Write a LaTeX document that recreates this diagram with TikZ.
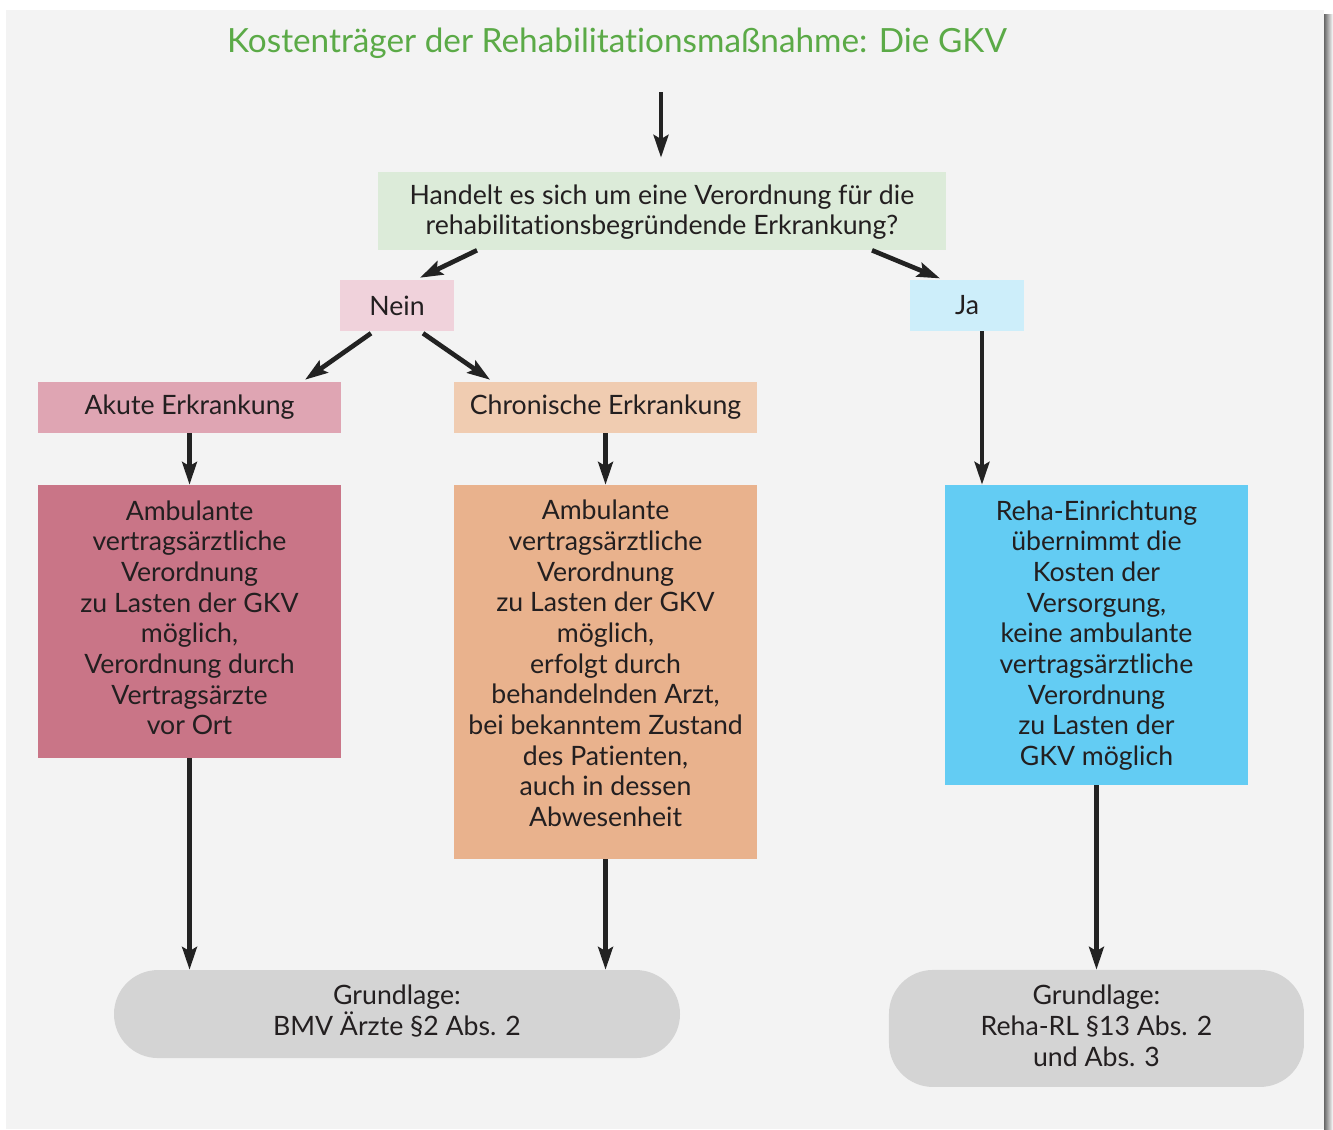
\documentclass[tikz,border=0pt]{standalone}
\usepackage{fontspec}
\setmainfont{Lato}[Ligatures=NoCommon]
\usepackage{xcolor}
\usepackage{tikz}
\usetikzlibrary{positioning, arrows.meta}

\definecolor{hintergrund}{HTML}{F3F3F3}
\definecolor{titelgruen}{HTML}{5BAA47}
\definecolor{fragegruen}{HTML}{DCEBD9}
\definecolor{neinrosa}{HTML}{F0D2DB}
\definecolor{jablau}{HTML}{CDEEFA}
\definecolor{akutrosa}{HTML}{DFA5B3}
\definecolor{chronorange}{HTML}{F0CCB1}
\definecolor{akutrot}{HTML}{C97587}
\definecolor{chronbraun}{HTML}{E9B28D}
\definecolor{rehablau}{HTML}{63CCF3}
\definecolor{grau}{HTML}{D4D4D4}
\definecolor{schrift}{HTML}{231F20}
\definecolor{pfeilfarbe}{HTML}{222222}

\begin{document}
\begin{tikzpicture}[x=0.75pt, y=-0.75pt, on grid,
    >={Stealth[length=17pt, width=11pt, inset=3pt]},
    box/.style={rectangle, align=center, inner sep=0pt, text=schrift,
        font=\fontsize{20}{23}\selectfont},
    frage/.style={box, fill=fragegruen, minimum width=426pt, minimum height=58.5pt},
    antwort/.style={box, minimum width=85.5pt, minimum height=38.25pt},
    kopf/.style={box, minimum width=227.25pt, minimum height=38.25pt},
    inhalt/.style={box, minimum width=227.25pt},
    grundlage/.style={box, fill=grau, rounded corners=33pt},
    pfeil/.style={->, draw=pfeilfarbe, line width=3.5pt}]

    \useasboundingbox (0,0) rectangle (1333,1129);
    \fill[white] (0,0) rectangle (1333,1129);
    \fill[hintergrund] (6,10) rectangle (1324,1129);
    \shade[left color=black!60, right color=white] (1324,14) rectangle (1333,1129);

    \node[text=titelgruen, font=\fontsize{25}{28}\selectfont] (titel) at (617,43)
        {Kostenträger der Rehabilitationsmaßnahme: Die GKV};
    \coordinate (start) at (661,92);

    \node[frage] (frage) at (662,211)
        {Handelt es sich um eine Verordnung für die\\rehabilitationsbegründende Erkrankung?\\[-21pt]};
    \node[antwort, fill=neinrosa] (nein) [below left=70.875pt and 198.75pt of frage] {Nein};
    \node[antwort, fill=jablau] (ja) [below right=70.875pt and 228.75pt of frage] {Ja};

    \node[kopf, fill=akutrosa] (akut) [below left=76.5pt and 155.6pt of nein] {Akute Erkrankung};
    \node[kopf, fill=chronorange] (chron) [below right=76.5pt and 156.4pt of nein] {Chronische Erkrankung};

    \node[inhalt, fill=akutrot, minimum height=204.75pt] (akutvo) [below=160.5pt of akut]
        {Ambulante\\vertragsärztliche\\Verordnung\\zu Lasten der GKV\\möglich,\\Verordnung durch\\Vertragsärzte\\vor Ort\\[-17pt]};
    \node[inhalt, fill=chronbraun, minimum height=280.5pt] (chronvo) [below=198.4pt of chron]
        {Ambulante\\vertragsärztliche\\Verordnung\\zu Lasten der GKV\\möglich,\\erfolgt durch\\behandelnden Arzt,\\bei bekanntem Zustand\\des Patienten,\\auch in dessen\\Abwesenheit\\[-10pt]};
    \node[inhalt, fill=rehablau, minimum height=225pt] (reha) [below right=247.1pt and 97.1pt of ja]
        {Reha-Einrichtung\\übernimmt die\\Kosten der\\Versorgung,\\keine ambulante\\vertragsärztliche\\Verordnung\\zu Lasten der\\GKV möglich\\[-20pt]};

    \node[grundlage, minimum width=424.5pt, minimum height=66pt] (bmv)
        [below right=294.4pt and 155.6pt of akutvo] {Grundlage:\\BMV Ärzte §2 Abs. 2\\[-17pt]};
    \node[grundlage, minimum width=311.25pt, minimum height=87.75pt] (rehal)
        [below=295.1pt of reha] {Grundlage:\\Reha-RL §13 Abs. 2\\und Abs. 3\\[-19pt]};

    % Pfeile
    \draw[pfeil, shorten >=10.5pt] (start) -- (start |- frage.north);
    \draw[pfeil] ([xshift=-138.75pt]frage.south) -- ([xshift=17.25pt, yshift=1.5pt]nein.north);
    \draw[pfeil] ([xshift=157.5pt]frage.south) -- ([xshift=-20.25pt, yshift=1pt]ja.north);
    \draw[pfeil] ([xshift=-19.5pt, yshift=-1.5pt]nein.south) -- ([xshift=86.6pt, yshift=1.5pt]akut.north);
    \draw[pfeil] ([xshift=19.5pt, yshift=-1.5pt]nein.south) -- ([xshift=-86.6pt, yshift=1.5pt]chron.north);
    \draw[pfeil] (akut) -- (akutvo.north);
    \draw[pfeil] (chron) -- (chronvo.north);
    \draw[pfeil] ([xshift=11.25pt]ja.south) -- ([xshift=11.25pt]ja.south |- reha.north);
    \draw[pfeil] (akutvo.south) -- (akutvo.south |- bmv.north);
    \draw[pfeil] (chronvo.south) -- (chronvo.south |- bmv.north);
    \draw[pfeil] (reha.south) -- (rehal.north);
\end{tikzpicture}
\end{document}
